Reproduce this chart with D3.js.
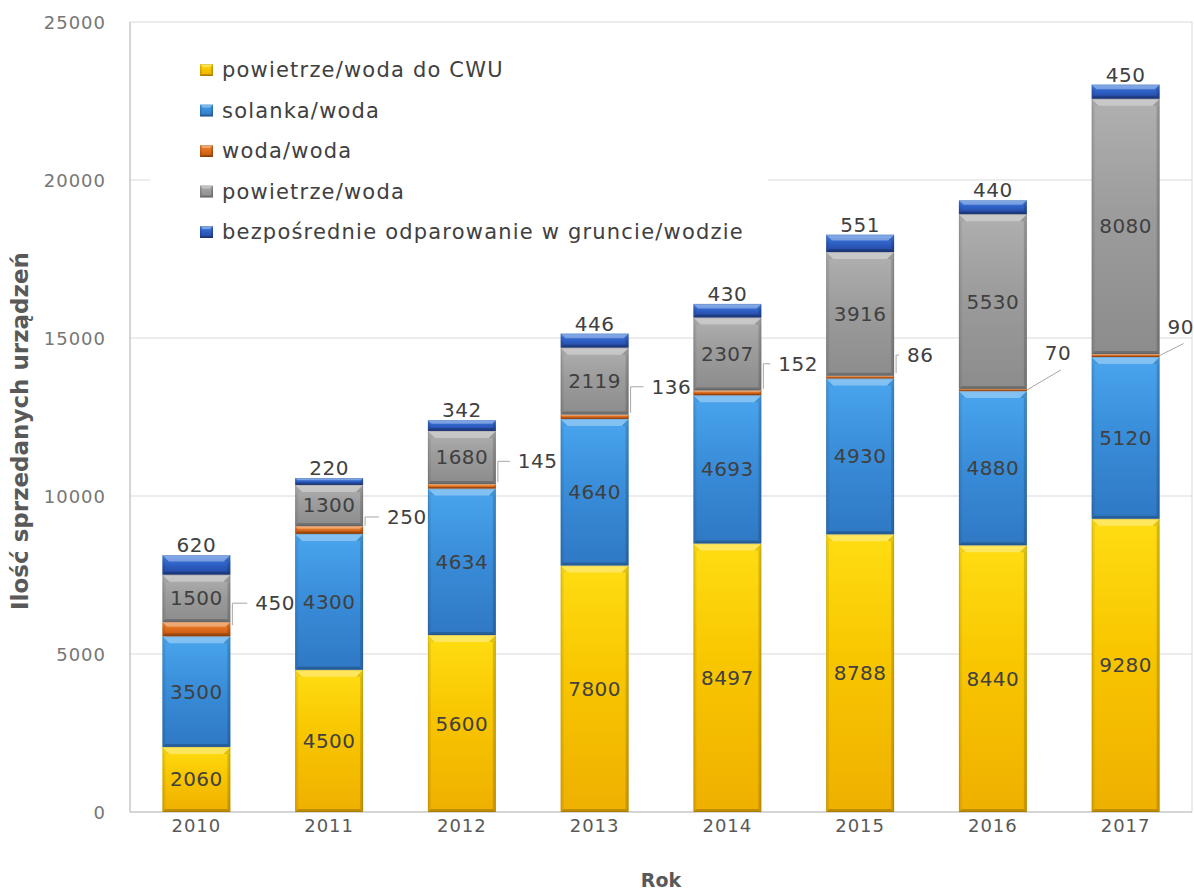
<!DOCTYPE html>
<html>
<head>
<meta charset="utf-8">
<script src="https://cdn.jsdelivr.net/npm/d3@7/dist/d3.min.js"></script>
<style>
  html, body { margin: 0; padding: 0; background: #ffffff; }
  svg { display: block; }
</style>
</head>
<body>
<svg id="chart" width="1194" height="891"></svg>
<script>
// Sales of heat pumps in Poland by type, 2010–2017
const years = ["2010", "2011", "2012", "2013", "2014", "2015", "2016", "2017"];
const cwu = [2060, 4500, 5600, 7800, 8497, 8788, 8440, 9280];            // powietrze/woda do CWU
const solanka = [3500, 4300, 4634, 4640, 4693, 4930, 4880, 5120];        // solanka/woda
const wodaWoda = [450, 250, 145, 136, 152, 86, 70, 90];                  // woda/woda
const powietrzeWoda = [1500, 1300, 1680, 2119, 2307, 3916, 5530, 8080];  // powietrze/woda
const bezposrednie = [620, 220, 342, 446, 430, 551, 440, 450];           // bezpośrednie odparowanie
const seriesNames = [
  "powietrze/woda do CWU",
  "solanka/woda",
  "woda/woda",
  "powietrze/woda",
  "bezpośrednie odparowanie w gruncie/wodzie"
];
const yTicks = [0, 5000, 10000, 15000, 20000, 25000];
const yTitle = "Ilość sprzedanych urządzeń";
const xTitle = "Rok";

// placement of the small woda/woda labels relative to the bar edge and segment middle
const smallLabelOffset = [[25, -26], [24, -13], [22, -25], [23, -30], [17, -29], [13, -22], [18, -37], [8, -29]];
const smallLabelDiagonal = [false, false, false, false, false, false, true, true];

const keys = ["cwu", "solanka", "wodaWoda", "powietrzeWoda", "bezposrednie"];
const table = years.map((y, i) => ({
  year: y,
  cwu: cwu[i], solanka: solanka[i], wodaWoda: wodaWoda[i],
  powietrzeWoda: powietrzeWoda[i], bezposrednie: bezposrednie[i]
}));

const fills = {
  cwu:           ["#FFDD12", "#F8C600", "#EFB000"],
  solanka:       ["#4AA5EE", "#3A8EDA", "#2F78C4"],
  wodaWoda:      ["#F08A3A", "#E06E1E", "#C2560E"],
  powietrzeWoda: ["#B0B0B0", "#9C9C9C", "#8C8C8C"],
  bezposrednie:  ["#4A86E2", "#2F62C8", "#24469E"]
};

const svg = d3.select("#chart");
const plot = { left: 130, right: 1192, top: 22, bottom: 812 };

const x = d3.scaleBand().domain(years)
  .range([plot.left, plot.right])
  .paddingInner(0.488).paddingOuter(0.244);
const y = d3.scaleLinear().domain([0, 25000]).range([plot.bottom, plot.top]);

// gradients
const defs = svg.append("defs");
keys.forEach(k => {
  const g = defs.append("linearGradient").attr("id", "g-" + k)
    .attr("x1", 0).attr("y1", 0).attr("x2", 0).attr("y2", 1);
  g.append("stop").attr("offset", "0%").attr("stop-color", fills[k][0]);
  g.append("stop").attr("offset", "45%").attr("stop-color", fills[k][1]);
  g.append("stop").attr("offset", "100%").attr("stop-color", fills[k][2]);
});

// gridlines
svg.append("g").selectAll("line")
  .data(yTicks.filter(t => t > 0 && t < 25000))
  .join("line")
  .attr("x1", plot.left).attr("x2", plot.right)
  .attr("y1", d => y(d)).attr("y2", d => y(d))
  .attr("stroke", "#d9d9d9").attr("stroke-width", 1);

// plot frame
svg.append("rect")
  .attr("x", plot.left).attr("y", plot.top)
  .attr("width", plot.right - plot.left).attr("height", plot.bottom - plot.top)
  .attr("fill", "none").attr("stroke", "#d9d9d9").attr("stroke-width", 1);
svg.append("line")
  .attr("x1", plot.left).attr("x2", plot.left)
  .attr("y1", plot.top).attr("y2", plot.bottom)
  .attr("stroke", "#bfbfbf");
svg.append("line")
  .attr("x1", plot.left).attr("x2", plot.right)
  .attr("y1", plot.bottom).attr("y2", plot.bottom)
  .attr("stroke", "#bfbfbf");

// bevelled block: light top edge, shaded sides and bottom
function bevelBlock(g, key, bx, by, w, h, topB, sideB) {
  const t = Math.max(0, Math.min(topB, h / 3));
  const s = Math.max(0, Math.min(sideB, h / 3, w / 4));
  g.append("rect").attr("x", bx).attr("y", by).attr("width", w).attr("height", h)
    .attr("fill", `url(#g-${key})`);
  if (s < 0.6) return;
  const poly = (pts, fill, op) => g.append("polygon")
    .attr("points", pts.map(p => p.join(",")).join(" "))
    .attr("fill", fill).attr("fill-opacity", op);
  poly([[bx, by + t], [bx + s, by + t], [bx + s, by + h - s], [bx, by + h]], "#000000", 0.07);
  poly([[bx + w, by + t], [bx + w - s, by + t], [bx + w - s, by + h - s], [bx + w, by + h]], "#000000", 0.15);
  poly([[bx, by + h], [bx + s, by + h - s], [bx + w - s, by + h - s], [bx + w, by + h]], "#000000", 0.2);
  poly([[bx, by], [bx + w, by], [bx + w - t, by + t], [bx + t, by + t]], "#ffffff", 0.32);
  poly([[bx, by], [bx + t, by + t], [bx, by + t]], "#000000", 0.05);
  poly([[bx + w, by], [bx + w - t, by + t], [bx + w, by + t]], "#000000", 0.12);
  g.append("rect").attr("x", bx + 0.5).attr("y", by + 0.5).attr("width", w - 1).attr("height", Math.max(0, h - 1))
    .attr("fill", "none").attr("stroke", "#000").attr("stroke-opacity", 0.1);
}

const stacked = d3.stack().keys(keys)(table);
const bars = svg.append("g");
stacked.forEach(layer => {
  layer.forEach(d => {
    const bx = x(d.data.year);
    const top = y(d[1]);
    const h = y(d[0]) - y(d[1]);
    bevelBlock(bars, layer.key, bx, top, x.bandwidth(), h, 7, 3);
  });
});

// labels
const labelFont = "'DejaVu Sans', Verdana, sans-serif";
const labels = svg.append("g")
  .attr("font-family", labelFont).attr("font-size", 20)
  .attr("fill", "#404040").attr("letter-spacing", 0.5);

// labels inside the bigger segments
["cwu", "solanka", "powietrzeWoda"].forEach(k => {
  const layer = stacked.find(l => l.key === k);
  labels.selectAll(null).data(layer).join("text")
    .attr("x", d => x(d.data.year) + x.bandwidth() / 2)
    .attr("y", d => (y(d[0]) + y(d[1])) / 2)
    .attr("text-anchor", "middle").attr("dominant-baseline", "central")
    .text(d => d.data[k]);
});

// labels above the top segment
const topLayer = stacked.find(l => l.key === "bezposrednie");
labels.selectAll(null).data(topLayer).join("text")
  .attr("x", d => x(d.data.year) + x.bandwidth() / 2)
  .attr("y", d => y(d[1]) - 3)
  .attr("text-anchor", "middle")
  .text(d => d.data.bezposrednie);

// woda/woda labels with leader lines
const thinLayer = stacked.find(l => l.key === "wodaWoda");
thinLayer.forEach((d, i) => {
  const edge = x(d.data.year) + x.bandwidth();
  const mid = (y(d[0]) + y(d[1])) / 2;
  const [dx, dy] = smallLabelOffset[i];
  const lx = edge + dx, ly = mid + dy;
  let path;
  if (smallLabelDiagonal[i]) {
    path = `M${edge},${mid} L${lx + 16},${ly + 17}`;
  } else {
    path = `M${edge + 2},${mid - 4} L${edge + 2},${ly} L${lx - 8},${ly}`;
  }
  svg.append("path").attr("d", path)
    .attr("fill", "none").attr("stroke", "#a6a6a6").attr("stroke-width", 1);
  labels.append("text")
    .attr("x", lx).attr("y", ly)
    .attr("dominant-baseline", "central")
    .text(d.data.wodaWoda);
});

// y axis tick labels
svg.append("g").selectAll("text").data(yTicks).join("text")
  .attr("x", 106).attr("y", d => y(d))
  .attr("text-anchor", "end").attr("dominant-baseline", "central")
  .attr("font-family", labelFont).attr("font-size", 18)
  .attr("letter-spacing", 1)
  .attr("fill", "#767676")
  .text(d => d);

// x axis tick labels
svg.append("g").selectAll("text").data(years).join("text")
  .attr("x", d => x(d) + x.bandwidth() / 2).attr("y", 832)
  .attr("text-anchor", "middle")
  .attr("font-family", labelFont).attr("font-size", 18)
  .attr("letter-spacing", 1)
  .attr("fill", "#595959")
  .text(d => d);

// axis titles
svg.append("text")
  .attr("x", (plot.left + plot.right) / 2).attr("y", 887)
  .attr("text-anchor", "middle")
  .attr("font-family", labelFont).attr("font-size", 19).attr("font-weight", "bold")
  .attr("fill", "#595959")
  .text(xTitle);

svg.append("text")
  .attr("transform", `translate(28,431) rotate(-90)`)
  .attr("text-anchor", "middle")
  .attr("font-family", labelFont).attr("font-size", 23).attr("font-weight", "bold")
  .attr("fill", "#595959")
  .text(yTitle);

// legend
const legend = svg.append("g");
legend.append("rect").attr("x", 150).attr("y", 48).attr("width", 618).attr("height", 200)
  .attr("fill", "#ffffff");
const legendRowY = d3.scalePoint().domain(keys).range([70, 232]);
keys.forEach((k, i) => {
  const cy = legendRowY(k);
  const mg = legend.append("g");
  bevelBlock(mg, k, 200, cy - 6, 13, 12, 3, 2);
  legend.append("text")
    .attr("x", 222).attr("y", cy)
    .attr("dominant-baseline", "central")
    .attr("font-family", labelFont).attr("font-size", 21)
    .attr("letter-spacing", 1.2)
    .attr("fill", "#404040")
    .text(seriesNames[i]);
});
</script>
</body>
</html>
